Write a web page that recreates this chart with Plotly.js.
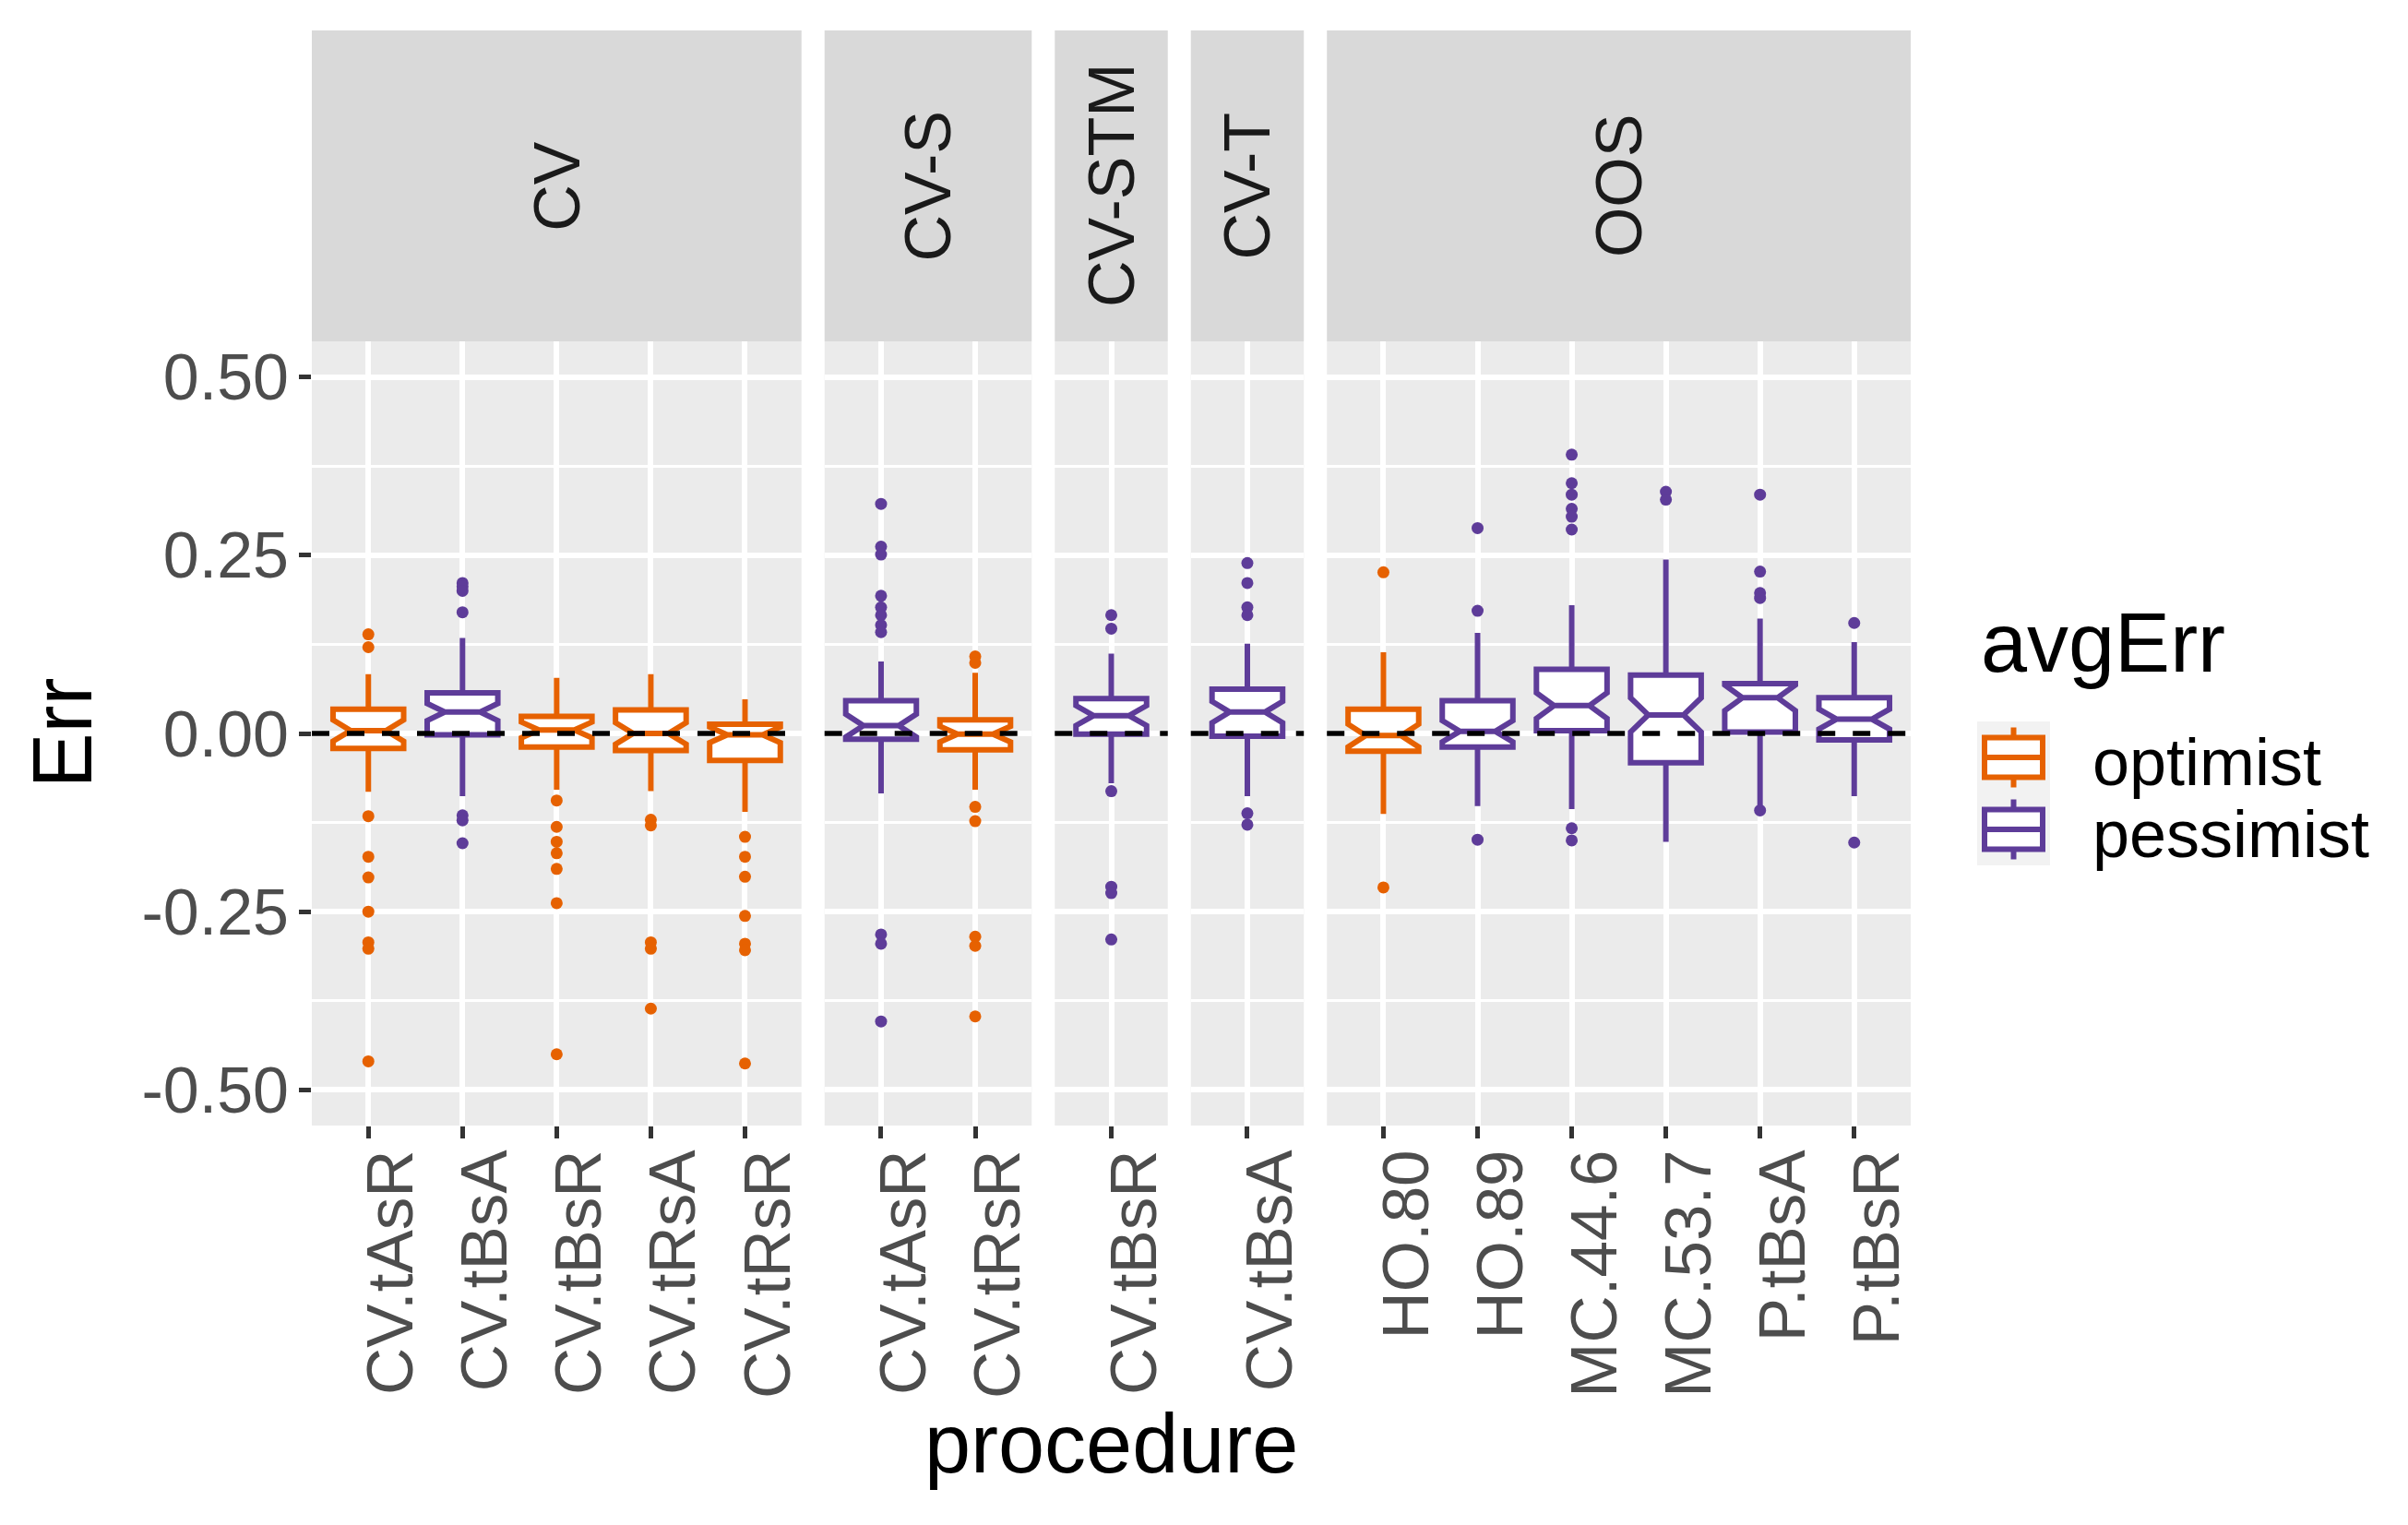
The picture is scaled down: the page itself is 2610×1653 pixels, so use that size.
<!DOCTYPE html>
<html>
<head>
<meta charset="utf-8">
<script src="https://cdn.plot.ly/plotly-3.0.1.min.js"></script>
<style>
html,body{margin:0;padding:0;background:#ffffff;}
#chart{width:2610px;height:1653px;}
</style>
</head>
<body>
<div id="chart"></div>
<script>
// ---------------- data ----------------
const facets = ['CV', 'CV-S', 'CV-STM', 'CV-T', 'OOS'];
const procedures = ['CV.tAsR', 'CV.tBsA', 'CV.tBsR', 'CV.tRsA', 'CV.tRsR',
                    'CV.tAsR', 'CV.tRsR',
                    'CV.tBsR',
                    'CV.tBsA',
                    'HO.80', 'HO.89', 'MC.44.6', 'MC.53.7', 'P.tBsA', 'P.tBsR'];
const procFacet = ['CV', 'CV', 'CV', 'CV', 'CV',
                   'CV-S', 'CV-S',
                   'CV-STM',
                   'CV-T',
                   'OOS', 'OOS', 'OOS', 'OOS', 'OOS', 'OOS'];
const avgErr = ['optimist', 'pessimist', 'optimist', 'optimist', 'optimist',
                'pessimist', 'optimist',
                'pessimist',
                'pessimist',
                'optimist', 'pessimist', 'pessimist', 'pessimist', 'pessimist', 'pessimist'];

const lowerWhisker = [-0.082, -0.088, -0.079, -0.081, -0.110, -0.084, -0.079, -0.070, -0.088, -0.113, -0.102, -0.106, -0.152, -0.103, -0.088];
const q1Vals       = [-0.021, -0.002, -0.019, -0.024, -0.038, -0.008, -0.023, -0.001, -0.004, -0.025, -0.019,  0.004, -0.041,  0.002, -0.009];
const medianVals   = [ 0.004,  0.030,  0.005,  0.000, -0.002,  0.011, -0.001,  0.025,  0.030, -0.003,  0.003,  0.039,  0.026,  0.050,  0.020];
const q3Vals       = [ 0.034,  0.057,  0.024,  0.033,  0.013,  0.046,  0.019,  0.049,  0.062,  0.034,  0.046,  0.090,  0.082,  0.070,  0.050];
const upperWhisker = [ 0.083,  0.134,  0.078,  0.083,  0.048,  0.101,  0.085,  0.112,  0.126,  0.114,  0.141,  0.180,  0.244,  0.161,  0.128];
const notchSpan    = [ 0.015,  0.012,  0.011,  0.015,  0.011,  0.016,  0.011,  0.014,  0.015,  0.016,  0.015,  0.018,  0.024,  0.018,  0.014];
const outliers = [
  [0.139, 0.121, -0.116, -0.173, -0.202, -0.250, -0.293, -0.302, -0.460],
  [0.211, 0.206, 0.200, 0.170, -0.115, -0.122, -0.154],
  [-0.094, -0.131, -0.152, -0.168, -0.190, -0.238, -0.450],
  [-0.121, -0.129, -0.293, -0.302, -0.386],
  [-0.145, -0.173, -0.201, -0.256, -0.295, -0.304, -0.463],
  [0.322, 0.262, 0.251, 0.193, 0.177, 0.166, 0.152, 0.142, -0.282, -0.295, -0.404],
  [0.108, 0.099, -0.103, -0.123, -0.285, -0.298, -0.397],
  [0.166, 0.147, -0.081, -0.215, -0.224, -0.289],
  [0.239, 0.211, 0.177, 0.166, -0.112, -0.128],
  [0.226, -0.216],
  [0.288, 0.172, -0.149],
  [0.391, 0.351, 0.335, 0.315, 0.304, 0.286, -0.133, -0.150],
  [0.339, 0.328],
  [0.335, 0.227, 0.197, 0.190, -0.108],
  [0.155, -0.153]
];

const groups = ['optimist', 'pessimist'];
const groupColors = ['#E66101', '#5E3C99'];
const yTicks = [-0.5, -0.25, 0, 0.25, 0.5];
const yTickLabels = ['-0.50', '-0.25', '0.00', '0.25', '0.50'];
const yMinorTicks = [-0.375, -0.125, 0.125, 0.375];
const yRange = [-0.55, 0.55];
const refLine = 0;

// ---------------- geometry ----------------
const W = 2610, H = 1653;
const M = {l: 338, r: 539, t: 370, b: 433};
const plotW = W - M.l - M.r, plotH = H - M.t - M.b;
const gapPx = 25;
const FONT = 'Liberation Sans, Arial, Helvetica, sans-serif';
const px2x = px => (px - M.l) / plotW;
const px2y = py => (H - M.b - py) / plotH;

const counts = facets.map(f => procFacet.filter(p => p === f).length);
const units = counts.map(n => n + 0.2);
const totalUnits = units.reduce((a, b) => a + b, 0);
const unitPx = (plotW - gapPx * (facets.length - 1)) / totalUnits;

const layout = {
  width: W, height: H,
  margin: {l: M.l, r: M.r, t: M.t, b: M.b, pad: 0},
  paper_bgcolor: '#FFFFFF',
  plot_bgcolor: '#EBEBEB',
  showlegend: false,
  boxmode: 'overlay',
  font: {family: FONT, color: '#000000'},
  yaxis: {
    range: yRange, anchor: 'x',
    tickmode: 'array', tickvals: yTicks, ticktext: yTickLabels,
    ticks: 'outside', ticklen: 13, tickwidth: 5, tickcolor: '#333333',
    ticklabelstandoff: -3,
    tickfont: {size: 70, color: '#4D4D4D', family: FONT},
    showgrid: true, gridcolor: '#FFFFFF', gridwidth: 6,
    minor: {tickmode: 'array', tickvals: yMinorTicks, showgrid: true, gridcolor: '#FFFFFF', gridwidth: 3, ticks: ''},
    zeroline: false, showline: false
  },
  shapes: [],
  annotations: []
};

const traces = [];
let cursor = 0;
facets.forEach((f, k) => {
  const ref = k === 0 ? 'x' : 'x' + (k + 1);
  const axName = k === 0 ? 'xaxis' : 'xaxis' + (k + 1);
  const widthPx = units[k] * unitPx;
  const cats = procedures.filter((p, i) => procFacet[i] === f);
  layout[axName] = {
    domain: [cursor / plotW, (cursor + widthPx) / plotW],
    anchor: 'y', type: 'category',
    categoryorder: 'array', categoryarray: cats,
    range: [-0.6, cats.length - 0.4],
    ticks: 'outside', ticklen: 13, tickwidth: 5, tickcolor: '#333333',
    tickangle: -90, ticklabelshift: 25, ticklabelstandoff: -16,
    tickfont: {size: 71, color: '#4D4D4D', family: FONT},
    showgrid: true, gridcolor: '#FFFFFF', gridwidth: 6,
    zeroline: false, showline: false
  };
  cursor += widthPx + gapPx;

  // strip background and label
  layout.shapes.push({
    type: 'rect', layer: 'below', xref: ref + ' domain', yref: 'paper',
    x0: 0, x1: 1, y0: 1, y1: px2y(33),
    fillcolor: '#D9D9D9', line: {width: 0}
  });
  layout.annotations.push({
    xref: ref + ' domain', yref: 'paper', x: 0.5, y: px2y(201.5),
    text: f, showarrow: false, textangle: -90,
    xanchor: 'center', yanchor: 'middle',
    font: {size: 70, color: '#1A1A1A', family: FONT}
  });
  // dashed reference line
  layout.shapes.push({
    type: 'line', layer: 'above', xref: ref + ' domain', yref: 'y',
    x0: 0, x1: 1, y0: refLine, y1: refLine,
    line: {color: '#000000', width: 5.5, dash: '19px,19px'}
  });

  groups.forEach((g, gi) => {
    const idx = procedures.map((p, i) => i).filter(i => procFacet[i] === f && avgErr[i] === g);
    if (!idx.length) return;
    traces.push({
      type: 'box', name: g, xaxis: ref, yaxis: 'y',
      x: idx.map(i => procedures[i]),
      q1: idx.map(i => q1Vals[i]),
      median: idx.map(i => medianVals[i]),
      q3: idx.map(i => q3Vals[i]),
      lowerfence: idx.map(i => lowerWhisker[i]),
      upperfence: idx.map(i => upperWhisker[i]),
      notchspan: idx.map(i => notchSpan[i]),
      notched: true, notchwidth: 0.25, width: 0.75,
      boxpoints: false, whiskerwidth: 0,
      fillcolor: '#FFFFFF',
      line: {color: groupColors[gi], width: 6},
      showlegend: false, hoverinfo: 'y'
    });
    const ox = [], oy = [];
    idx.forEach(i => outliers[i].forEach(v => { ox.push(procedures[i]); oy.push(v); }));
    traces.push({
      type: 'scatter', mode: 'markers', name: g, xaxis: ref, yaxis: 'y',
      x: ox, y: oy,
      marker: {color: groupColors[gi], size: 13, line: {width: 0}},
      showlegend: false, hoverinfo: 'y'
    });
  });
});

// axis titles
layout.annotations.push({
  xref: 'paper', yref: 'paper', x: 0.5, y: px2y(1564.5),
  text: 'procedure', showarrow: false, xanchor: 'center', yanchor: 'middle',
  font: {size: 90, color: '#000000', family: FONT}
});
layout.annotations.push({
  xref: 'paper', yref: 'paper', x: px2x(67.5), y: 0.5,
  text: 'Err', showarrow: false, textangle: -90, xanchor: 'center', yanchor: 'middle',
  font: {size: 90, color: '#000000', family: FONT}
});

// legend (ggplot-style keys)
const keyL = 2143, keyR = 2222, keyTop = 782, rowH = 78;
layout.annotations.push({
  xref: 'paper', yref: 'paper', x: px2x(2145), y: px2y(696.5),
  text: 'avgErr', showarrow: false, xanchor: 'left', yanchor: 'middle',
  font: {size: 90, color: '#000000', family: FONT}
});
groups.forEach((g, gi) => {
  const top = keyTop + gi * rowH, c = top + rowH / 2;
  const col = groupColors[gi];
  const xc = (keyL + keyR) / 2;
  layout.shapes.push({type: 'rect', xref: 'paper', yref: 'paper', layer: 'above',
    x0: px2x(keyL), x1: px2x(keyR), y0: px2y(top), y1: px2y(top + rowH),
    fillcolor: '#F2F2F2', line: {width: 0}});
  layout.shapes.push({type: 'line', xref: 'paper', yref: 'paper', layer: 'above',
    x0: px2x(xc), x1: px2x(xc), y0: px2y(c - 32.5), y1: px2y(c + 32.5),
    line: {color: col, width: 6}});
  layout.shapes.push({type: 'rect', xref: 'paper', yref: 'paper', layer: 'above',
    x0: px2x(keyL + 8), x1: px2x(keyR - 8), y0: px2y(c - 21.5), y1: px2y(c + 21.5),
    fillcolor: '#FFFFFF', line: {color: col, width: 6}});
  layout.shapes.push({type: 'line', xref: 'paper', yref: 'paper', layer: 'above',
    x0: px2x(keyL + 8), x1: px2x(keyR - 8), y0: px2y(c), y1: px2y(c),
    line: {color: col, width: 6}});
  layout.annotations.push({
    xref: 'paper', yref: 'paper', x: px2x(2266), y: px2y(c + 5),
    text: g, showarrow: false, xanchor: 'left', yanchor: 'middle',
    font: {size: 72, color: '#000000', family: FONT}
  });
});

Plotly.newPlot('chart', traces, layout, {displayModeBar: false, staticPlot: true});
</script>
</body>
</html>
